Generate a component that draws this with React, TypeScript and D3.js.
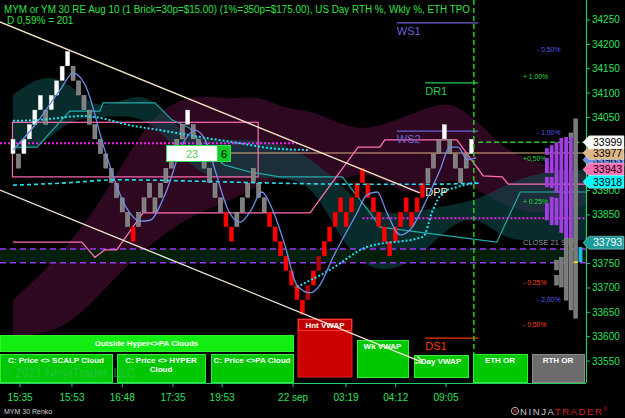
import React from 'react';
import * as d3 from 'd3';

const W = 625;
const H = 418;
const BRICK = 30;

// renko bricks (low of each 30 pt brick) and colour kind
const brickLow = [
  33975, 33945, 33975, 34005, 34035, 34065, 34035, 34065, 34095, 34125,
  34155, 34125, 34095, 34065, 34035, 34005, 33975, 33945, 33915, 33885,
  33855, 33825, 33795, 33825, 33855, 33885, 33855, 33885, 33915, 33945,
  33975, 34005, 34035, 34005, 33975, 33945, 33915, 33885, 33855, 33825,
  33795, 33825, 33855, 33885, 33915, 33885, 33855, 33825, 33795, 33765,
  33735, 33705, 33675, 33645, 33675, 33705, 33735, 33765, 33795, 33825,
  33855, 33825, 33855, 33885, 33915, 33885, 33855, 33825, 33795, 33765,
  33795, 33825, 33855, 33825, 33855, 33885, 33915, 33945, 33975, 34005,
  33975, 33945, 33915, 33945, 33975,
];
const brickKind = (
  'wgwwwwgwww' + 'wggggggggg' + 'ggrggggggg' + 'ggwggggggr' + 'rggggggrrr' +
  'rrrrdrdrrr' + 'rrrrrrrrrr' + 'rrrrrrgggw' + 'ggggw'
).split('');

// time axis
const timeLabels = ['15:35', '15:53', '16:48', '17:35', '19:53', '22 sep', '03:19', '04:12', '09:05'];
const timeIdx = [1.3, 10.8, 20, 29.3, 38.3, 51.3, 61, 70.1, 79.3];
const priceTicks = d3.range(33550, 34251, 50);

// clouds, sampled every 5 bars
const cloudIdx = d3.range(0, 106, 5);
const magentaHi = [33675, 33727, 33788, 33860, 33952, 34045, 34086, 34096, 34086, 34096, 34065, 34065, 34034, 34024, 34045, 34065, 34086, 34045, 33983, 33963, 33942, 33932];
const magentaLo = [33603, 33603, 33624, 33675, 33737, 33788, 33829, 33860, 33880, 33911, 33932, 33901, 33922, 33942, 33901, 33891, 33932, 33901, 33870, 33850, 33860, 33870];
const tealHi = [34096, 34137, 34127, 34065, 34086, 34102, 34024, 34004, 34004, 34004, 33993, 33963, 33911, 33860, 33850, 33860, 33870, 33880, 33911, 33932, 33942, 33942];
const tealLo = [33983, 33987, 34045, 34049, 34055, 34045, 33983, 33926, 33926, 33926, 33926, 33911, 33798, 33737, 33737, 33768, 33829, 33850, 33798, 33798, 33798, 33798];

// lines
const blueIdx = [0, 4, 8.6, 11, 13.2, 16.8, 20.5, 23.3, 25.1, 27.8, 31.5, 33.3, 35.2, 37, 39.4, 41.6, 43.4, 45.6, 47.4, 49.8, 52, 54.4, 56.2, 58.6, 63, 64.8, 66.7, 68.5, 70.9, 72.7, 75.1, 78.2, 80, 81.5, 83.2, 84.8];
const blueVal = [33983, 34034, 34106, 34141, 34117, 33983, 33870, 33837, 33839, 33891, 34004, 34024, 34004, 33942, 33860, 33835, 33856, 33897, 33864, 33788, 33706, 33690, 33706, 33763, 33854, 33891, 33897, 33854, 33809, 33819, 33866, 33942, 33989, 33989, 33963, 33967];
const slowIdx = [0, 4.9, 8.6, 12.3, 15.9, 21.4, 26.9, 34.2, 41.6, 47.1, 54.4];
const slowVal = [34043, 34045, 34049, 34053, 34049, 34034, 34024, 34010, 33997, 33987, 33983];
const baseIdx = [0, 8.6, 19.6, 34.2, 48.9, 61.7, 76.4, 85.5];
const baseVal = [33911, 33915, 33922, 33919, 33915, 33913, 33913, 33915];
const vwapIdx = [52, 58, 64.8, 75.1, 76.9, 78.8, 81.3, 85];
const vwapVal = [33702, 33737, 33784, 33805, 33860, 33897, 33907, 33917];
const tealIdx = [0, 4.4, 10.4, 15.9, 16.5, 26, 29.1, 32.4, 35.2, 38.8, 43.4, 48.9, 60.3, 65.4, 67.2, 88.6, 92.9, 105];
const tealVal = [33989, 33989, 34063, 34063, 34080, 34080, 34045, 34028, 33983, 33952, 33938, 33928, 33928, 33854, 33825, 33794, 33897, 33897];
const pinkIdx = [0, 12.6, 15, 16.8, 19, 23.8, 54.4, 63.2, 67.2, 68.1, 81.3, 86.1, 89.6, 90.7, 105];
const pinkVal = [33794, 33794, 33763, 33778, 33778, 33854, 33854, 33989, 33989, 34004, 34004, 33930, 33928, 33913, 33913];

// trend lines [startIdx, startPrice, endIdx, endPrice]
const trendUpper = [-2.4, 34246, 74.5, 33895];
const trendLower = [-2.4, 33901, 74.9, 33548];

// range box
const boxFrom = -0.1;
const boxTo = 44.9;
const boxHi = 34040;
const boxLo = 33928;

// pivots
const pivotNames = ['WS1', 'DR1', 'WS2', 'DS1'];
const pivotPrice = [34244, 34121, 34022, 33597];
const pivotFrom = [70.3, 75.5, 70.3, 75.5];
const pivotColor = ['#6a62d8', '#22cc55', '#6a62d8', '#ff3300'];

// percent labels
const pctText = ['- 0.50%', '+ 1.00%', '- 1,00%', '+0,50%', '+ 0.25%', '- 0.25%', '- 2,00%', '- 0,50%'];
const pctPrice = [34190, 34135, 34020, 33965, 33878, 33712, 33677, 33626];
const pctKind = ['dn', 'up', 'dn', 'up', 'up', 'red', 'dn', 'red'];

// right axis price tags
const tagPrice = [33963, 33977, 33943, 33918, 33999, 33793];
const tagFill = ['#6f8fe8', '#deb887', '#ff6eb4', '#00ffff', '#ffffff', '#1a9c9c'];
const tagText = ['#000', '#000', '#000', '#000', '#000', '#fff'];

// ETH TPO profile segments: column, top, bottom, kind
const tpoCol = [0, 0, 0, 0, 1, 1, 1, 2, 2, 3, 4, 5, 5, 5, 6, 4, 3, 2, 2, 7];
const tpoTop = [33987, 33967, 33928, 33874, 33993, 33928, 33887, 33999, 33885, 34008, 34010, 34010, 34018, 33802, 34047, 33802, 33763, 33757, 33726, 33784];
const tpoBot = [33973, 33936, 33907, 33839, 33936, 33905, 33829, 33895, 33829, 33813, 33802, 33802, 34010, 33655, 33638, 33675, 33702, 33737, 33706, 33753];
const tpoKind = ['p', 'p', 'p', 'p', 'p', 'p', 'p', 'p', 'p', 'p', 'p', 'p', 'g', 'g', 'g', 'g', 'g', 'g', 'g', 'c'];

const buttons = [
  {label: ['Outside Hyper<>PA Clouds'], x: 0, y: 335, w: 293, h: 16, fill: '#12ee12'},
  {label: ['C: Price <> SCALP Cloud'], x: 0, y: 354, w: 112, h: 28, fill: '#00c800'},
  {label: ['C: Price <> HYPER', 'Cloud'], x: 117, y: 354, w: 88, h: 28, fill: '#00c800'},
  {label: ['C: Price <>PA Cloud'], x: 211, y: 354, w: 82, h: 28, fill: '#00c800'},
  {label: ['Wk VWAP'], x: 357, y: 340, w: 51, h: 37, fill: '#00c800'},
  {label: ['Day VWAP'], x: 414, y: 355, w: 54, h: 22, fill: '#00c800'},
  {label: ['ETH OR'], x: 473, y: 354, w: 54, h: 28, fill: '#00c800'},
  {label: ['RTH OR'], x: 532, y: 354, w: 52, h: 28, fill: '#6c6c6c'},
];

const FONT = "'Liberation Sans', Arial, sans-serif";
const AXIS_GREEN = '#2ee05c';

export default function App() {
  const x = d3.scaleLinear().domain([0, 105]).range([13, 586.3]);
  const y = d3.scaleLinear().domain([33505, 34291]).range([383, 0]);
  const right = 586;
  const bottom = 383;

  const zip = (a: number[], b: number[]) => a.map((d, i) => [d, b[i]] as [number, number]);
  const smooth = d3.line<[number, number]>().x(d => x(d[0])).y(d => y(d[1])).curve(d3.curveMonotoneX);
  const straight = d3.line<[number, number]>().x(d => x(d[0])).y(d => y(d[1]));
  const cloud = (hi: number[], lo: number[]) =>
    d3.area<number>()
      .x((_, i) => x(cloudIdx[i]))
      .y0((_, i) => y(lo[i]))
      .y1(d => y(d))
      .curve(d3.curveBasis)(hi) || '';

  const nowX = x(84.4);
  // axis labels hidden behind the price tags are not drawn
  const shownTicks = priceTicks.filter(p => !tagPrice.some(t => Math.abs(y(t) - y(p)) < 8));

  return (
    <svg width={W} height={H} style={{position: 'fixed', left: 0, top: 0, background: '#000'}} fontFamily={FONT}>
      <defs>
        <clipPath id="plot">
          <rect x={0} y={0} width={right} height={bottom} />
        </clipPath>
        <marker id="arr" viewBox="0 0 6 6" refX={5} refY={3} markerWidth={6} markerHeight={6} orient="auto">
          <path d="M0,0 L6,3 L0,6" fill="none" stroke="#f5ecd8" strokeWidth={1} />
        </marker>
      </defs>
      <rect width={W} height={H} fill="#000" />

      <g clipPath="url(#plot)">
        {/* clouds */}
        <path d={cloud(magentaHi, magentaLo)} fill="#5c0f40" opacity={0.5} />
        <path d={cloud(tealHi, tealLo)} fill="#0f4f4f" opacity={0.55} />

        {/* close band */}
        <rect x={0} y={y(33780)} width={right} height={y(33752) - y(33780)} fill="#04200a" />
        <line x1={0} x2={right} y1={y(33780)} y2={y(33780)} stroke="#9933ff" strokeWidth={1.5} strokeDasharray="6,4" />
        <line x1={0} x2={right} y1={y(33752)} y2={y(33752)} stroke="#9933ff" strokeWidth={1.5} strokeDasharray="6,4" />

        {/* range box */}
        <rect x={x(boxFrom)} y={y(boxHi)} width={x(boxTo) - x(boxFrom)} height={y(boxLo) - y(boxHi)}
          fill="none" stroke="#ff69b4" strokeWidth={1.2} />

        {/* horizontal levels */}
        <line x1={0} x2={x(52)} y1={y(33997)} y2={y(33997)} stroke="#ee22ee" strokeWidth={2} strokeDasharray="2,2" />
        <line x1={x(64)} x2={right} y1={y(33843)} y2={y(33843)} stroke="#ee22ee" strokeWidth={2} strokeDasharray="2,2" />
        <line x1={x(39.9)} x2={right} y1={y(33977)} y2={y(33977)} stroke="#e0b080" strokeWidth={1} />
        <line x1={x(85.2)} x2={right} y1={y(33999)} y2={y(33999)} stroke="#22cc22" strokeWidth={1.5} strokeDasharray="5,3" />

        {/* cloud boundary lines */}
        <path d={straight(zip(tealIdx, tealVal)) || ''} fill="none" stroke="#22aaaa" strokeWidth={1.2} />
        <path d={straight(zip(pinkIdx, pinkVal)) || ''} fill="none" stroke="#ff6eb4" strokeWidth={1.3} />

        {/* pivots */}
        {pivotNames.map((n, i) => (
          <g key={n}>
            <line x1={x(pivotFrom[i])} x2={x(85.2)} y1={y(pivotPrice[i])} y2={y(pivotPrice[i])}
              stroke={pivotColor[i]} strokeWidth={1.2} />
            <text x={x(pivotFrom[i])} y={y(pivotPrice[i]) + 12} fontSize={11} fill={pivotColor[i]}>{n}</text>
          </g>
        ))}
        <text x={x(75.5)} y={y(33915) + 13} fontSize={11} fill="#f4f0dc">DPP</text>

        {/* bricks */}
        {brickLow.map((lo, i) => {
          const k = brickKind[i];
          const fill = k === 'w' ? '#ffffff' : k === 'g' ? '#7e7e7e' : k === 'r' ? '#ff0000' : '#b00000';
          const stroke = k === 'g' ? '#a8a8a8' : k === 'w' ? '#e8e8e8' : fill;
          return (
            <rect key={i} x={x(i) - 2} y={y(lo + BRICK)} width={4} height={y(lo) - y(lo + BRICK) - 0.5}
              fill={fill} stroke={stroke} strokeWidth={0.5} />
          );
        })}

        {/* moving averages */}
        <path d={smooth(zip(slowIdx, slowVal)) || ''} fill="none" stroke="#22e0f0" strokeWidth={2} strokeDasharray="2,2" />
        <path d={smooth(zip(baseIdx, baseVal)) || ''} fill="none" stroke="#22e0f0" strokeWidth={1.6} strokeDasharray="4,3" />
        <path d={smooth(zip(vwapIdx, vwapVal)) || ''} fill="none" stroke="#22e0f0" strokeWidth={2} strokeDasharray="2,2" />
        <path d={smooth(zip(blueIdx, blueVal)) || ''} fill="none" stroke="#6f8fe8" strokeWidth={1.3} />

        {/* percent labels */}
        {pctText.map((t, i) => (
          <text key={t + i} x={pctKind[i] === 'dn' ? 537 : 523} y={y(pctPrice[i]) + 2.5} fontSize={6.8}
            fill={pctKind[i] === 'dn' ? '#5a5aee' : pctKind[i] === 'up' ? '#22dd44' : '#ff4411'}>{t}</text>
        ))}
        <text x={523} y={y(33793) + 2.5} fontSize={7.5} fill="#8a9aa0">CLOSE 21 SEP</text>

        {/* TPO profile */}
        {tpoCol.map((c, i) => (
          <rect key={'t' + i} x={545 + c * 4.8} y={y(tpoTop[i])} width={3.8} height={y(tpoBot[i]) - y(tpoTop[i])}
            fill={tpoKind[i] === 'p' ? '#a03ee0' : tpoKind[i] === 'g' ? '#7a7a7a' : '#22bbee'}
            stroke={tpoKind[i] === 'g' ? '#999' : 'none'} strokeWidth={0.5} />
        ))}
        <line x1={574} x2={578} y1={y(33753)} y2={y(33753)} stroke="#ffee00" strokeWidth={1.5} />

        {/* current bar */}
        <line x1={nowX} x2={nowX} y1={0} y2={bottom} stroke="#22cc22" strokeWidth={1.5} strokeDasharray="5,3" />
      </g>

      {/* bottom buttons */}
      <g fontWeight="bold" fontSize={8} textAnchor="middle" fill="#fff">
        <rect x={298} y={319} width={54} height={58} fill="#cc0000" stroke="#e02020" />
        <rect x={298.5} y={319.5} width={53} height={11} fill="#c00000" stroke="#ff4444" strokeWidth={0.8} />
        <text x={325} y={328}>Hnt VWAP</text>
        {buttons.map(b => (
          <g key={b.label[0]}>
            <rect x={b.x + 0.5} y={b.y + 0.5} width={b.w} height={b.h} fill={b.fill}
              stroke={b.fill === '#6c6c6c' ? '#8a8a8a' : '#33ee33'} strokeWidth={1} />
            {b.label.map((l, j) => (
              <text key={l} x={b.x + b.w / 2} y={b.y + (b.h < 20 && j === 0 ? 11 : 9) + j * 9}>{l}</text>
            ))}
          </g>
        ))}
      </g>
      <text x={3} y={377} fontSize={12} fill="#3ec060" opacity={0.6}>© 2021 NinjaTrader, LLC</text>

      {/* trend lines */}
      <g clipPath="url(#plot)">
        <line x1={x(trendUpper[0])} y1={y(trendUpper[1])} x2={x(trendUpper[2])} y2={y(trendUpper[3])}
          stroke="#f5e6c8" strokeWidth={1.3} />
        <line x1={x(trendLower[0])} y1={y(trendLower[1])} x2={x(trendLower[2])} y2={y(trendLower[3])}
          stroke="#f5ecd8" strokeWidth={1.3} markerEnd="url(#arr)" />
      </g>

      {/* annotation box */}
      <rect x={166.5} y={145.5} width={51} height={16} fill="#fff" stroke="#33dd55" />
      <rect x={217.5} y={145.5} width={13} height={16} fill="#11cc22" stroke="#33dd55" />
      <text x={192} y={157.5} fontSize={11} fill="#55cc55" textAnchor="middle">23</text>
      <text x={224} y={157.5} fontSize={11} fill="#000" textAnchor="middle">6</text>

      {/* axes */}
      <line x1={right + 0.5} x2={right + 0.5} y1={0} y2={bottom} stroke="#22cc66" strokeWidth={1.2} />
      <line x1={0} x2={right} y1={bottom + 0.5} y2={bottom + 0.5} stroke="#22cc66" strokeWidth={1.2} />
      {priceTicks.map(p => (
        <line key={'k' + p} x1={right} x2={right + 4} y1={y(p)} y2={y(p)} stroke="#22cc66" />
      ))}
      {shownTicks.map(p => (
        <text key={p} x={592} y={y(p) + 3.5} fontSize={10} fill={AXIS_GREEN}>{p}</text>
      ))}
      {timeLabels.map((t, i) => (
        <g key={t}>
          <line x1={x(timeIdx[i])} x2={x(timeIdx[i])} y1={bottom} y2={bottom + 4} stroke="#22cc66" />
          <text x={x(timeIdx[i])} y={401} fontSize={10} fill={AXIS_GREEN} textAnchor="middle">{t}</text>
        </g>
      ))}

      {/* price tags */}
      {tagPrice.map((p, i) => {
        const ty = y(p);
        return (
          <g key={p}>
            <path d={`M583,${ty} L589,${ty - 6.5} L624,${ty - 6.5} L624,${ty + 6.5} L589,${ty + 6.5} Z`}
              fill={tagFill[i]} stroke="#fff" strokeWidth={0.4} />
            <text x={593} y={ty + 3.8} fontSize={10.5} fill={tagText[i]}>{p}</text>
          </g>
        );
      })}

      {/* title */}
      <text x={4} y={13} fontSize={10} fill="#30e048" textLength={466} lengthAdjust="spacingAndGlyphs">
        MYM or YM 30 RE Aug 10 (1 Brick=30p=$15.00) (1%=350p=$175.00), US Day RTH %, Wkly %, ETH TPO
      </text>
      <text x={7} y={24} fontSize={10} fill="#30e048">D 0,59% = 201</text>

      {/* footer */}
      <text x={4} y={414} fontSize={7} fill="#cfcfcf">MYM 30 Renko</text>
      <circle cx={515} cy={411} r={3.6} fill="none" stroke="#bbb" strokeWidth={1} />
      <path d="M513.5,413 L515,409 L516.5,413" fill="none" stroke="#d02020" strokeWidth={1} />
      <text x={520} y={415} fontSize={9.5} letterSpacing={1.6}>
        <tspan fill="#c8c8c8">NINJA</tspan>
        <tspan fill="#d42020">TRADER</tspan>
        <tspan fill="#d42020" fontSize={5} dy={-4}>®</tspan>
      </text>
    </svg>
  );
}
